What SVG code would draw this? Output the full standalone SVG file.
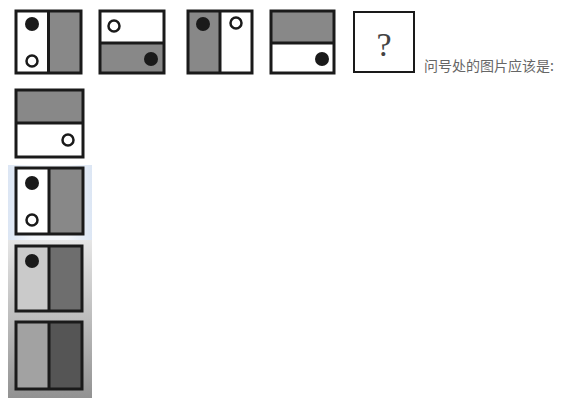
<svg xmlns="http://www.w3.org/2000/svg" width="572" height="400" viewBox="0 0 572 400">
<defs>
<linearGradient id="bg" x1="0" y1="0" x2="0" y2="1">
<stop offset="0" stop-color="#e6e6e6"/>
<stop offset="1" stop-color="#929292"/>
</linearGradient>
<linearGradient id="bgb" x1="0" y1="0" x2="1" y2="0">
<stop offset="0" stop-color="#dce6f4"/>
<stop offset="0.3" stop-color="#f4f7fb"/>
<stop offset="0.7" stop-color="#f4f7fb"/>
<stop offset="1" stop-color="#dce6f4"/>
</linearGradient>
</defs>
<style>
.f{stroke:#1a1a1a;stroke-width:3;fill:none}
.g{fill:#888}
.w{fill:#fff}
.d{fill:#1a1a1a}
.h{fill:#fff;stroke:#1a1a1a;stroke-width:2.5}
.t{font-family:"Noto Sans CJK SC","Noto Sans",sans-serif;font-size:14px;fill:#666}
</style>
<rect width="572" height="400" fill="#fff"/>
<rect x="8" y="165" width="84" height="75" fill="url(#bgb)"/>
<rect x="8" y="240" width="84" height="158" fill="url(#bg)"/>
<g id="q1">
<rect x="16" y="11" width="33" height="62" class="w"/>
<rect x="49" y="11" width="32" height="62" class="g"/>
<rect x="16" y="11" width="65" height="62" class="f"/>
<line x1="48.5" y1="11" x2="48.5" y2="73" class="f"/>
<circle cx="32" cy="24" r="7" class="d"/>
<circle cx="32" cy="61" r="5.5" class="h"/>
</g>
<g id="q2">
<rect x="100" y="11" width="64" height="32" class="w"/>
<rect x="100" y="43" width="64" height="30" class="g"/>
<rect x="100" y="11" width="64" height="62" class="f"/>
<line x1="100" y1="43" x2="164" y2="43" class="f"/>
<circle cx="114" cy="26" r="5.5" class="h"/>
<circle cx="151" cy="59" r="7" class="d"/>
</g>
<g id="q3">
<rect x="188" y="11" width="32" height="62" class="g"/>
<rect x="220" y="11" width="32" height="62" class="w"/>
<rect x="188" y="11" width="64" height="62" class="f"/>
<line x1="220" y1="11" x2="220" y2="73" class="f"/>
<circle cx="203" cy="24" r="7" class="d"/>
<circle cx="236" cy="23" r="5.5" class="h"/>
</g>
<g id="q4">
<rect x="271" y="11" width="63" height="32" class="g"/>
<rect x="271" y="43" width="63" height="30" class="w"/>
<rect x="271" y="11" width="63" height="62" class="f"/>
<line x1="271" y1="43" x2="334" y2="43" class="f"/>
<circle cx="322" cy="59" r="7" class="d"/>
</g>
<g id="q5">
<rect x="354" y="12" width="60" height="60" fill="#fff" stroke="#1a1a1a" stroke-width="2"/>
<text x="384" y="56" text-anchor="middle" font-family="Liberation Serif,serif" font-size="34" fill="#444">?</text>
</g>
<text class="t" x="424" y="71">问号处的图片应该是:</text>
<g id="optA">
<rect x="16" y="90" width="67" height="33" class="g"/>
<rect x="16" y="123" width="67" height="34" class="w"/>
<rect x="16" y="90" width="67" height="67" class="f"/>
<line x1="16" y1="123" x2="83" y2="123" class="f"/>
<circle cx="68" cy="140" r="5.5" class="h"/>
</g>
<g id="optB">
<rect x="16" y="168" width="33" height="66" class="w"/>
<rect x="49" y="168" width="34" height="66" class="g"/>
<rect x="16" y="168" width="67" height="66" class="f"/>
<line x1="49" y1="168" x2="49" y2="234" class="f"/>
<circle cx="32" cy="183" r="7" class="d"/>
<circle cx="32" cy="220" r="5.5" class="h"/>
</g>
<g id="optC">
<rect x="16" y="246" width="33" height="65" fill="#cacaca"/>
<rect x="49" y="246" width="33" height="65" fill="#6e6e6e"/>
<rect x="16" y="246" width="66" height="65" class="f"/>
<line x1="49" y1="246" x2="49" y2="311" class="f"/>
<circle cx="32" cy="261" r="7" class="d"/>
</g>
<g id="optD">
<rect x="16" y="322" width="33" height="67" fill="#a2a2a2"/>
<rect x="49" y="322" width="33" height="67" fill="#555"/>
<rect x="16" y="322" width="66" height="67" class="f"/>
<line x1="49" y1="322" x2="49" y2="389" class="f"/>
</g>
</svg>
